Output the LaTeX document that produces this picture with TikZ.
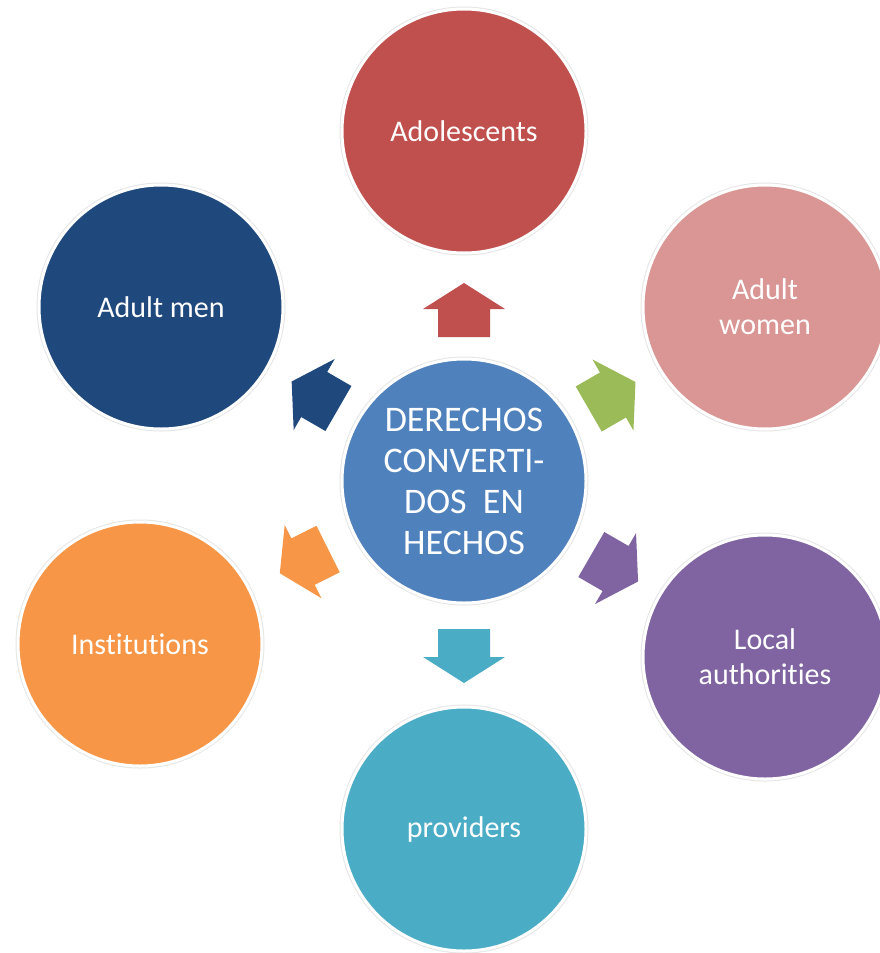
\documentclass[tikz,border=0pt]{standalone}
\usepackage{fontspec}
\setmainfont{Carlito}[Ligatures={NoCommon}]
\definecolor{cred}{HTML}{C0504D}
\definecolor{cpink}{HTML}{D99694}
\definecolor{cpurple}{HTML}{8064A2}
\definecolor{caqua}{HTML}{4BACC6}
\definecolor{corange}{HTML}{F79646}
\definecolor{cnavy}{HTML}{1F497D}
\definecolor{cblue}{HTML}{4F81BD}
\definecolor{cgreen}{HTML}{9BBB59}
\tikzset{
  bubble/.style={circle, minimum size=244pt, inner sep=0pt, text=white,
    align=center, font=\fontsize{30}{35}\selectfont,
    preaction={draw=black!10, line width=5pt}, draw=white, line width=3pt},
  hub/.style={bubble, font=\fontsize{36}{41}\selectfont},
}
\newcommand{\blockarr}[3]{%
  \begin{scope}[shift={(c.center)}, rotate=#1]
    \fill[#3] ({#2-54},-26) -- ({#2-26},-26) -- ({#2-26},-41) -- (#2,0)
      -- ({#2-26},41) -- ({#2-26},26) -- ({#2-54},26) -- cycle;
  \end{scope}}
\begin{document}
\begin{tikzpicture}[x=1pt,y=1pt]
  \useasboundingbox (0,0) rectangle (880,-953);
  \clip (0,0) rectangle (880,-953);
  \node[hub, fill=cblue] (c) at (464,-481) {DERECHOS\\CONVERTI-\\DOS~~EN\\HECHOS};
  \node[bubble, fill=cred] (ado) at (464,-131) {Adolescents};
  \node[bubble, fill=cpink] (aw) at (765,-307) {Adult\\women};
  \node[bubble, fill=cpurple] (la) at (765,-657) {Local\\authorities};
  \node[bubble, fill=caqua] (pr) at (464,-829) {providers};
  \node[bubble, fill=corange] (ins) at (140,-644) {Institutions};
  \node[bubble, fill=cnavy] (am) at (161,-307) {Adult men};
  \blockarr{90}{198}{cred}
  \blockarr{30}{198}{cgreen}
  \blockarr{-30}{201}{cpurple}
  \blockarr{-90}{202}{caqua}
  \blockarr{206.6}{206}{corange}
  \blockarr{150}{199}{cnavy}
\end{tikzpicture}
\end{document}
